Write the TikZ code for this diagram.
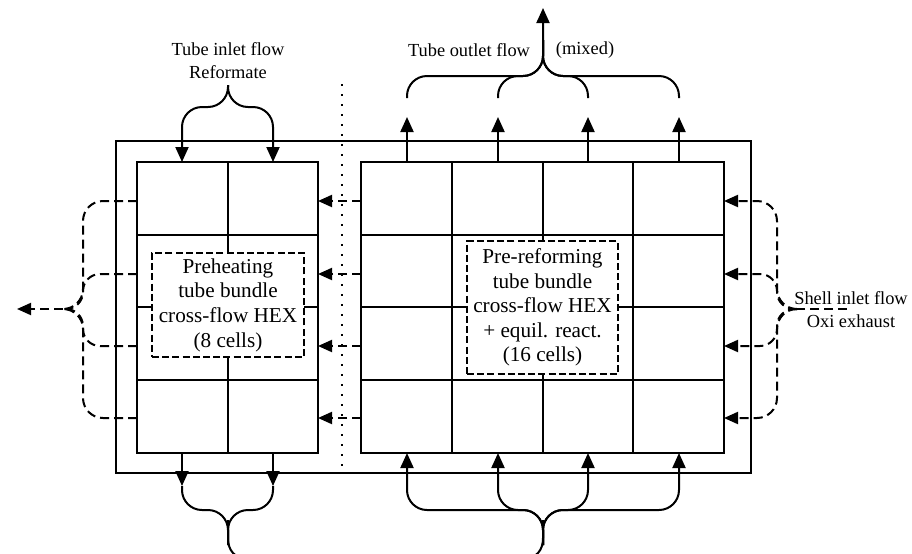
\documentclass[tikz,border=0pt]{standalone}
\usepackage{fontspec}
\setmainfont{Liberation Serif}
\usetikzlibrary{arrows.meta, positioning}

\tikzstyle{flow} = [-{Triangle[length=7.5pt, width=6.5pt]}, line width=1pt]
\tikzset{
    pipe/.style={line width=1pt},
    shellline/.style={line width=1pt, dash pattern=on 4.5pt off 2.5pt},
    shellflow/.style={shellline, -{Triangle[length=7pt, width=6pt]}},
    gridline/.style={line width=1pt},
    divider/.style={line width=1pt, dash pattern=on 1pt off 4pt},
    hexbox/.style={draw, fill=white, line width=1pt,
        dash pattern=on 3.5pt off 1.6pt, align=center, inner sep=0pt,
        font=\fontsize{10.6pt}{12.3pt}\selectfont},
    flowlabel/.style={align=center, inner sep=0pt,
        font=\fontsize{9.2pt}{11.5pt}\selectfont},
}

\begin{document}
\begin{tikzpicture}[x=0.5pt, y=-0.5pt]
    \useasboundingbox (0,0) rectangle (912,553);
    \clip (0,0) rectangle (912,553);
    \fill[white] (0,0) rectangle (912,553);

    % shell casing and separation
    \draw[gridline] (116,141) rectangle (751,473);
    \draw[divider] (342,84) -- (342,472);

    % preheating bundle, 2 x 4 cells
    \draw[gridline] (137,162) rectangle (318,453);
    \draw[gridline] (228,162) -- (228,453);
    % pre-reforming bundle, 4 x 4 cells
    \draw[gridline] (361,162) rectangle (724,453);
    \foreach \x in {452,543,633}
        \draw[gridline] (\x,162) -- (\x,453);
    \foreach \y in {235,307,380} {
        \draw[gridline] (137,\y) -- (318,\y);
        \draw[gridline] (361,\y) -- (724,\y);
    }

    % cell ports
    \foreach \x [count=\c] in {182,273} {
        \coordinate (Ltop\c) at (\x,162);
        \coordinate (Lbot\c) at (\x,453);
    }
    \foreach \x [count=\c] in {407,498,588,679} {
        \coordinate (Rtop\c) at (\x,162);
        \coordinate (Rbot\c) at (\x,453);
    }
    \foreach \y [count=\r] in {201,274,346,418} {
        \coordinate (Lw\r) at (137,\y);
        \coordinate (Le\r) at (318,\y);
        \coordinate (Rw\r) at (361,\y);
        \coordinate (Re\r) at (724,\y);
    }

    % bundle descriptions
    \node[hexbox, minimum width=76pt, minimum height=52pt] (preheat) at (228,305)
        {Preheating\\tube bundle\\cross-flow HEX\\(8 cells)};
    \node[hexbox, minimum width=75.5pt, minimum height=66.5pt] (prereform) at (542.5,307.5)
        {Pre-reforming\\tube bundle\\cross-flow HEX\\+ equil. react.\\(16 cells)};

    % tube inlet
    \node[flowlabel] (inlet) at (228,61) {Tube inlet flow\\Reformate};
    \coordinate (intip) at (228,85);
    \foreach \c in {1,2}
        \draw[flow, rounded corners=10pt] (intip) -- (228,107) -| (Ltop\c);

    % tube outlet
    \node[flowlabel] (outlet) at (469,50) {Tube outlet flow};
    \node[flowlabel] (mixlabel) at (585,50) {(mixed)};
    \coordinate (mixed) at (543,8);
    \foreach \c in {1,...,4} {
        \coordinate (out\c) at ([yshift=22.5pt]Rtop\c);
        \coordinate (bo\c) at ([yshift=32pt]Rtop\c);
        \draw[flow] (Rtop\c) -- (out\c);
    }
    \draw[flow, rounded corners=10pt] (bo1) |- (543,76) -- (mixed);
    \foreach \c in {2,3,4}
        \draw[pipe, rounded corners=10pt] (bo\c) |- (543,76) -- (543,40);

    % tube transfer below the casing
    \foreach \c in {1,2} {
        \coordinate (dn\c) at ([yshift=-16.5pt]Lbot\c);
        \draw[flow] (Lbot\c) -- (dn\c);
        \draw[pipe, rounded corners=10pt] (dn\c) |- (228,510) -- (228,545);
    }
    \draw[pipe] (228,520) -- (228,538) .. controls (228,550) and (234,559) .. (250,559)
        -- (521,559) .. controls (537,559) and (543,550) .. (543,538) -- (543,520);
    \foreach \c in {1,...,4}
        \draw[flow, rounded corners=10pt] (543,545) -- (543,510) -| (Rbot\c);

    % shell flow between bundles
    \foreach \r in {1,...,4}
        \draw[shellflow] (Rw\r) -- (Le\r);

    % shell inlet
    \node[flowlabel] (shell) at (851,310) {Shell inlet flow\\Oxi exhaust};
    \coordinate (shin) at (847,309);
    \coordinate (shtip) at (797,309);
    \draw[shellline] (shin) -- (shtip);
    \draw[shellflow, rounded corners=10pt] (shtip) -| (777,201) -- (Re1);
    \draw[shellflow, rounded corners=8.5pt] (shtip) -| (777,274) -- (Re2);
    \draw[shellflow, rounded corners=8.5pt] (shtip) -| (777,346) -- (Re3);
    \draw[shellflow, rounded corners=10pt] (shtip) -| (777,418) -- (Re4);

    % shell exhaust
    \coordinate (extip) at (63,309);
    \coordinate (exout) at (17,309);
    \draw[shellline, rounded corners=10pt] (Lw1) -| (83,309) -- (extip);
    \draw[shellline, rounded corners=8.5pt] (Lw2) -| (83,309) -- (extip);
    \draw[shellline, rounded corners=8.5pt] (Lw3) -| (83,309) -- (extip);
    \draw[shellline, rounded corners=10pt] (Lw4) -| (83,309) -- (extip);
    \draw[shellflow] (extip) -- (exout);
\end{tikzpicture}
\end{document}
